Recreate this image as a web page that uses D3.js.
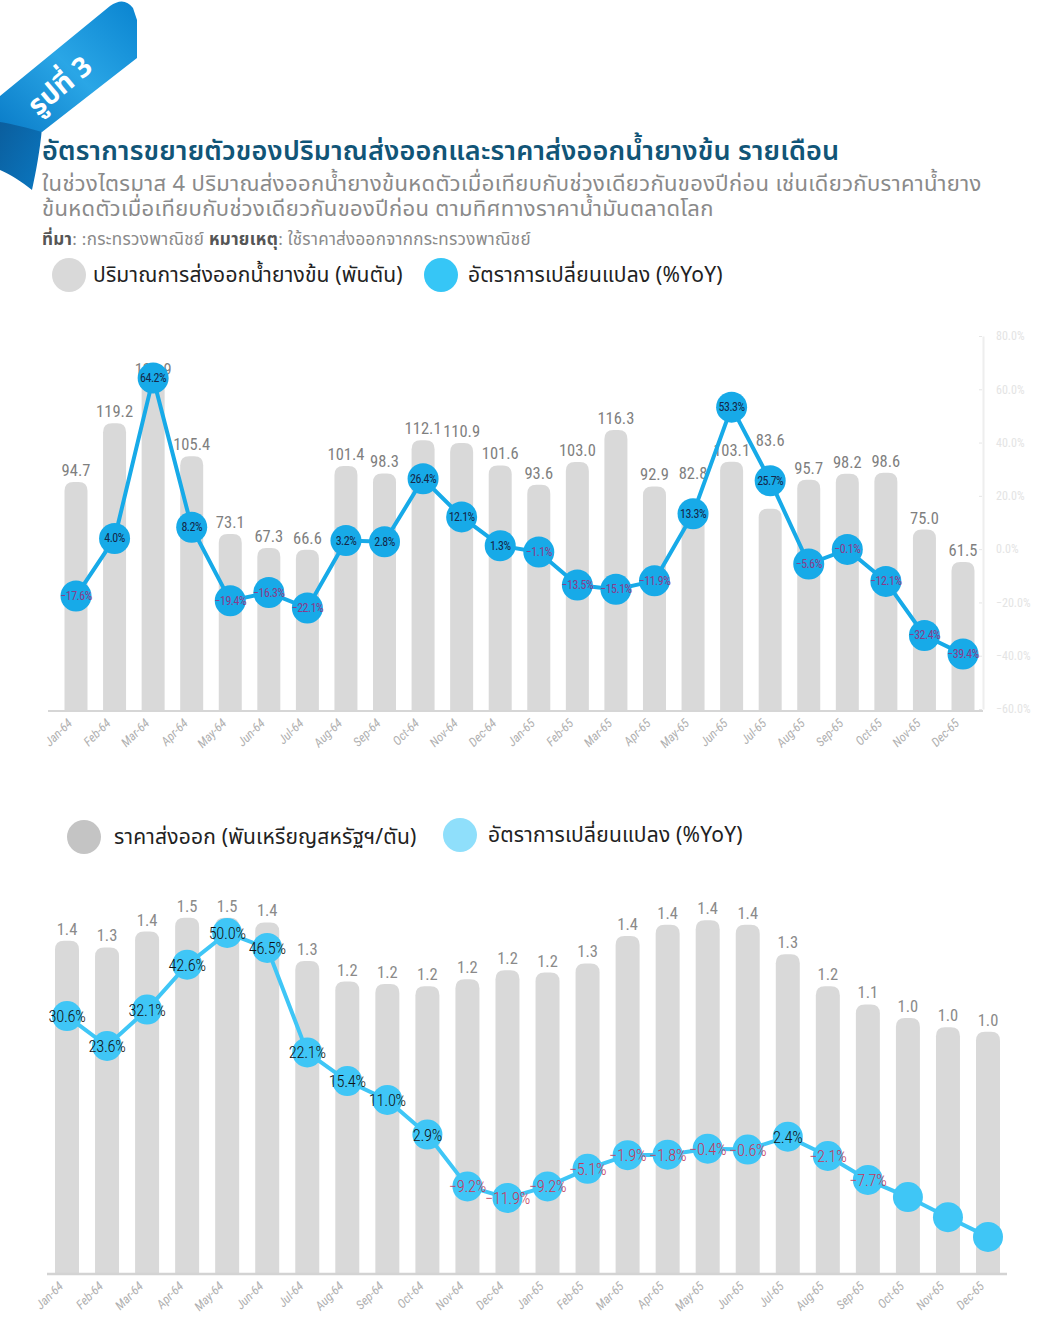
<!DOCTYPE html>
<html><head><meta charset="utf-8">
<script src="https://cdn.jsdelivr.net/npm/d3@7"></script>
<style>
body{margin:0;background:#fff;}
svg{display:block;font-family:"Noto Sans Thai","Noto Sans Thai UI","Noto Sans",sans-serif;}
</style></head>
<body>
<svg id="c" width="1052" height="1338"></svg>
<script>
const months = ["Jan-64","Feb-64","Mar-64","Apr-64","May-64","Jun-64","Jul-64","Aug-64","Sep-64","Oct-64","Nov-64","Dec-64",
                "Jan-65","Feb-65","Mar-65","Apr-65","May-65","Jun-65","Jul-65","Aug-65","Sep-65","Oct-65","Nov-65","Dec-65"];
const exportVolume = [94.7,119.2,136.9,105.4,73.1,67.3,66.6,101.4,98.3,112.1,110.9,101.6,
                      93.6,103.0,116.3,92.9,82.8,103.1,83.6,95.7,98.2,98.6,75.0,61.5];
const volumeYoY = [-17.6,4.0,64.2,8.2,-19.4,-16.3,-22.1,3.2,2.8,26.4,12.1,1.3,
                   -1.1,-13.5,-15.1,-11.9,13.3,53.3,25.7,-5.6,-0.1,-12.1,-32.4,-39.4];
const exportPrice = [1.36,1.33,1.40,1.46,1.46,1.44,1.27,1.18,1.17,1.16,1.19,1.23,
                     1.22,1.26,1.38,1.43,1.45,1.43,1.30,1.16,1.08,1.02,0.98,0.96];
const priceYoY = [30.6,23.6,32.1,42.6,50.0,46.5,22.1,15.4,11.0,2.9,-9.2,-11.9,
                  -9.2,-5.1,-1.9,-1.8,-0.4,-0.6,2.4,-2.1,-7.7,-11.7,-16.4,-21.0];
const priceYoYLabelled = [1,1,1,1,1,1,1,1,1,1,1,1,1,1,1,1,1,1,1,1,1,0,0,0];
const rightTicks1 = [-60,-40,-20,0,20,40,60,80];

const svg = d3.select("#c");
const THAI = '"Noto Sans Thai","Noto Sans Thai UI","Noto Sans",sans-serif';

// ---------- ribbon ----------
const defs = svg.append("defs");
const g1 = defs.append("linearGradient").attr("id","rib").attr("x1","0").attr("y1","1").attr("x2","1").attr("y2","0");
g1.append("stop").attr("offset","0").attr("stop-color","#0a7cc8");
g1.append("stop").attr("offset","0.5").attr("stop-color","#2aa6e6");
g1.append("stop").attr("offset","1").attr("stop-color","#0a84d0");
const g2 = defs.append("linearGradient").attr("id","curl").attr("x1","0").attr("y1","0").attr("x2","1").attr("y2","1");
g2.append("stop").attr("offset","0").attr("stop-color","#0b5d9c");
g2.append("stop").attr("offset","1").attr("stop-color","#0a77c0");
svg.append("path").attr("d","M0,116 C14,120 30,124 42,128 C40,150 36,172 32,190 C22,182 10,174 0,170 Z").attr("fill","url(#curl)");
svg.append("path").attr("d","M0,96 L110,6 Q124,-4 133,8 L137,20 L137,58 L42,132 C28,128 12,124 0,122 Z").attr("fill","url(#rib)");
svg.append("text").attr("transform","translate(66,93) rotate(-40)").attr("text-anchor","middle")
  .attr("fill","#fff").attr("font-size",28).attr("font-weight","bold").style("font-family",THAI).text("รูปที่ 3");

// ---------- header ----------
svg.append("text").attr("x",42).attr("y",160).attr("fill","#115577").attr("font-size",27).attr("font-weight","600")
  .attr("letter-spacing","0.2")
  .text("อัตราการขยายตัวของปริมาณส่งออกและราคาส่งออกน้ำยางข้น รายเดือน");
svg.append("text").attr("x",42).attr("y",191).attr("fill","#8a8a8a").attr("font-size",22).attr("letter-spacing","0.35")
  .text("ในช่วงไตรมาส 4 ปริมาณส่งออกน้ำยางข้นหดตัวเมื่อเทียบกับช่วงเดียวกันของปีก่อน เช่นเดียวกับราคาน้ำยาง");
svg.append("text").attr("x",42).attr("y",216).attr("fill","#8a8a8a").attr("font-size",22).attr("letter-spacing","0.35")
  .text("ข้นหดตัวเมื่อเทียบกับช่วงเดียวกันของปีก่อน ตามทิศทางราคาน้ำมันตลาดโลก");
const src = svg.append("text").attr("x",42).attr("y",245).attr("fill","#8a8a8a").attr("font-size",17).attr("letter-spacing","0.3");
src.append("tspan").attr("font-weight","bold").attr("fill","#555").text("ที่มา");
src.append("tspan").text(": :กระทรวงพาณิชย์  ");
src.append("tspan").attr("font-weight","bold").attr("fill","#555").text("หมายเหตุ");
src.append("tspan").text(": ใช้ราคาส่งออกจากกระทรวงพาณิชย์");

// ---------- legends ----------
function legendItem(cx, cy, color, label, gap){
  svg.append("circle").attr("cx",cx).attr("cy",cy).attr("r",17).attr("fill",color);
  svg.append("text").attr("x",cx+gap).attr("y",cy+7).attr("font-size",21).attr("letter-spacing","0.2").attr("fill","#222").text(label);
}
legendItem(69,275,"#d9d9d9","ปริมาณการส่งออกน้ำยางข้น (พันตัน)",24);
legendItem(441,275,"#36c6f6","อัตราการเปลี่ยนแปลง (%YoY)",27);
legendItem(84,837,"#c4c4c4","ราคาส่งออก (พันเหรียญสหรัฐฯ/ตัน)",30);
legendItem(460,835,"#8fdffb","อัตราการเปลี่ยนแปลง (%YoY)",28);

function topRoundedBar(x, y, w, h, r){
  r = Math.min(r, w/2, h);
  return `M${x},${y+h} L${x},${y+r} Q${x},${y} ${x+r},${y} L${x+w-r},${y} Q${x+w},${y} ${x+w},${y+r} L${x+w},${y+h} Z`;
}

const NUM = '"Liberation Sans Narrow","Roboto Condensed","Roboto",sans-serif';

// ---------- chart 1 ----------
(function(){
  const x = d3.scalePoint().domain(months).range([76,963]);
  const yL = d3.scaleLinear().domain([0,150]).range([710,349]);
  const yR = d3.scaleLinear().domain([-60,80]).range([709,336]);
  const bw = 23, base = 710, plotTop = 350, r = 15.5;
  const g = svg.append("g");
  g.selectAll("path.bar").data(months).join("path").attr("class","bar")
    .attr("d",(m,i)=>topRoundedBar(x(m)-bw/2, yL(exportVolume[i]), bw, base-yL(exportVolume[i]), 9))
    .attr("fill","#d9d9d9");
  g.append("line").attr("x1",48).attr("x2",983).attr("y1",base+1).attr("y2",base+1).attr("stroke","#d6d6d6").attr("stroke-width",2);
  const ra = g.append("g").attr("transform","translate(983,0)").call(d3.axisRight(yR).tickValues(rightTicks1).tickSize(0).tickPadding(13).tickFormat(d=>d3.format(".1f")(d)+"%"));
  ra.select(".domain").attr("stroke","#eeeeee").attr("stroke-width",2);
  ra.selectAll("text").attr("fill","#e4e4e4").attr("font-size",12).style("font-family",NUM);
  ra.selectAll(".tick").append("line").attr("x1",-4).attr("x2",-1).attr("stroke","#e6e6e6");
  g.selectAll("text.xl").data(months).join("text").attr("class","xl")
    .attr("transform",m=>`translate(${x(m)-3},${base+14}) rotate(-45)`)
    .attr("text-anchor","end").attr("fill","#b0b0b0").attr("font-size",12.5).attr("font-style","italic")
    .style("font-family",NUM).text(m=>m);
  g.selectAll("text.bl").data(exportVolume).join("text").attr("class","bl")
    .attr("x",(d,i)=>x(months[i])).attr("text-anchor","middle").attr("fill","#7f7f7f").attr("font-size",16.5).style("font-family",NUM)
    .attr("y",(d,i)=>{
      const def = yL(d) - 6;
      const cy = yR(volumeYoY[i]);
      const overlap = (def > cy-r) && (def-13 < cy+r);
      const moved = cy - r - 19;
      if (overlap && moved-14 > plotTop) return moved;
      return def;
    })
    .text(d=>d3.format(".1f")(d));
  const line = d3.line().x((d,i)=>x(months[i])).y(d=>yR(d));
  g.append("path").datum(volumeYoY).attr("d",line).attr("fill","none").attr("stroke","#17aae8").attr("stroke-width",4);
  g.selectAll("circle.pt").data(volumeYoY).join("circle").attr("class","pt")
    .attr("cx",(d,i)=>x(months[i])).attr("cy",d=>yR(d)).attr("r",r).attr("fill","#17aae8");
  g.selectAll("text.pl").data(volumeYoY).join("text").attr("class","pl")
    .attr("x",(d,i)=>x(months[i])).attr("y",d=>yR(d)+4).attr("text-anchor","middle")
    .attr("font-size",12).attr("letter-spacing","-0.5").style("font-family",NUM)
    .attr("fill",d=>d<0?"#8a3c8c":"#14284a").text(d=>d3.format(".1f")(d)+"%");
})();

// ---------- chart 2 ----------
(function(){
  const x = d3.scalePoint().domain(months).range([67,988]);
  const yL = d3.scaleLinear().domain([-0.1,1.6]).range([1273,886]);
  const yR = d3.scaleLinear().domain([-30,60]).range([1275.4,890.2]);
  const bw = 24, base = 1273;
  const g = svg.append("g");
  g.selectAll("path.bar").data(months).join("path").attr("class","bar")
    .attr("d",(m,i)=>topRoundedBar(x(m)-bw/2, yL(exportPrice[i]), bw, base-yL(exportPrice[i]), 9))
    .attr("fill","#d9d9d9");
  g.append("line").attr("x1",47).attr("x2",1007).attr("y1",base+1).attr("y2",base+1).attr("stroke","#d3d3d3").attr("stroke-width",2.5);
  g.selectAll("text.xl").data(months).join("text").attr("class","xl")
    .attr("transform",m=>`translate(${x(m)-3},${base+14}) rotate(-45)`)
    .attr("text-anchor","end").attr("fill","#b0b0b0").attr("font-size",12.5).attr("font-style","italic")
    .style("font-family",NUM).text(m=>m);
  g.selectAll("text.bl").data(exportPrice).join("text").attr("class","bl")
    .attr("x",(d,i)=>x(months[i])).attr("y",d=>yL(d)-6).attr("text-anchor","middle")
    .attr("fill","#8a8a8a").attr("font-size",16.5).style("font-family",NUM).text(d=>d3.format(".1f")(d));
  const line = d3.line().x((d,i)=>x(months[i])).y(d=>yR(d));
  g.append("path").datum(priceYoY).attr("d",line).attr("fill","none").attr("stroke","#3fc6f6").attr("stroke-width",4);
  g.selectAll("circle.pt").data(priceYoY).join("circle").attr("class","pt")
    .attr("cx",(d,i)=>x(months[i])).attr("cy",d=>yR(d)).attr("r",15).attr("fill","#3fc6f6");
  g.selectAll("text.pl").data(priceYoY.map((d,i)=>({d,i})).filter(o=>priceYoYLabelled[o.i])).join("text").attr("class","pl")
    .attr("x",o=>x(months[o.i])).attr("y",o=>yR(o.d)+6).attr("text-anchor","middle")
    .attr("font-size",16.5).attr("font-weight","300").attr("letter-spacing","-0.3").style("font-family",NUM)
    .attr("fill",o=>o.d<0?"#c23a5e":"#111").text(o=>d3.format(".1f")(o.d)+"%");
})();
</script>
</body></html>
